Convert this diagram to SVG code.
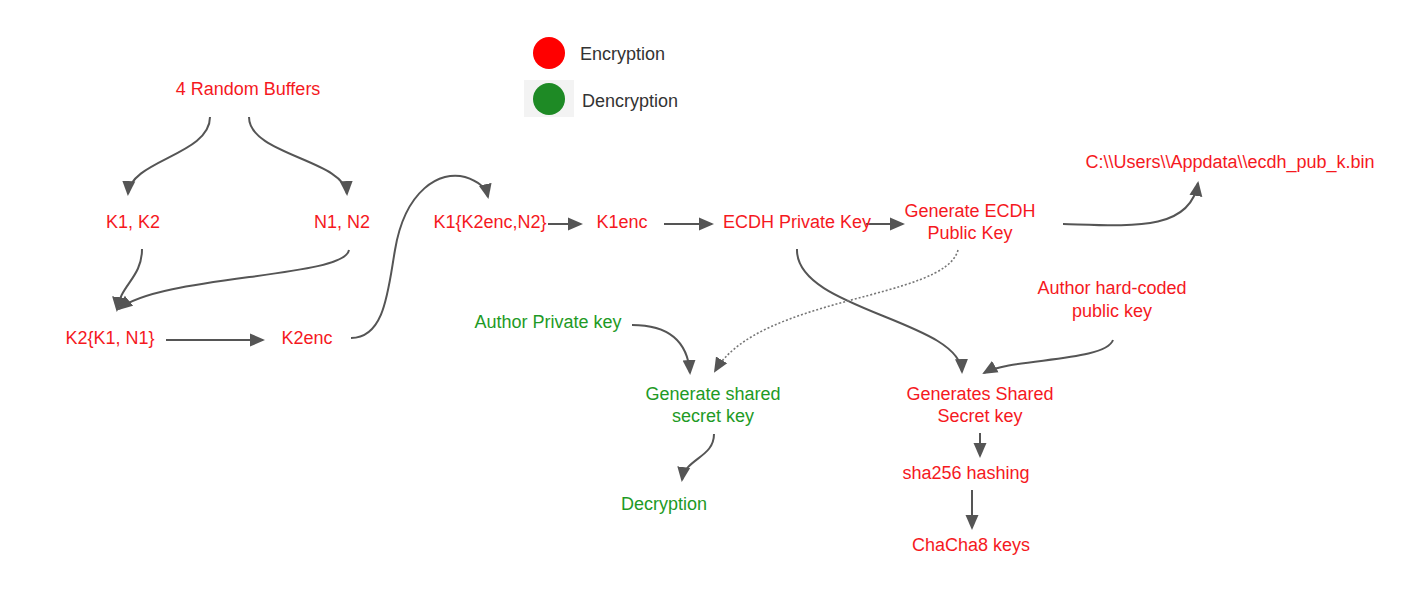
<svg xmlns="http://www.w3.org/2000/svg" width="1428" height="595" viewBox="0 0 1428 595">
<style>
text{font-family:"Liberation Sans",Arial,sans-serif;font-size:18px;text-anchor:middle}
.r{fill:#f5191e}
.g{fill:#1e9a25}
.lg{fill:#333;text-anchor:start;font-size:18px}
.c{fill:none;stroke:#555;stroke-width:2}
.d{fill:none;stroke:#777;stroke-width:1.6;stroke-dasharray:2 2}
</style>
<defs>
<marker id="a" markerUnits="userSpaceOnUse" markerWidth="16" markerHeight="14" refX="13" refY="7" orient="auto">
<path d="M0,0.5 L15,7 L0,13.5 Z" fill="#555"/>
</marker>
</defs>
<rect width="1428" height="595" fill="#fff"/>
<g id="legend">
<circle cx="549" cy="53" r="16" fill="#f00"/>
<text class="lg" x="580" y="60">Encryption</text>
<rect x="524" y="80" width="50" height="37" fill="#f3f3f3"/>
<circle cx="549" cy="99" r="16" fill="#1e8a25"/>
<text class="lg" x="582" y="107">Dencryption</text>
</g>
<g id="connectors">
<path class="c" d="M210,117 C210,155 130,160 128,194" marker-end="url(#a)"/>
<path class="c" d="M249,117 C249,155 345,160 347,194" marker-end="url(#a)"/>
<path class="c" d="M142,249 C142,278 120,285 117,310" marker-end="url(#a)"/>
<path class="c" d="M349,250 C345,278 160,275 119,309" marker-end="url(#a)"/>
<path class="c" d="M166,340 L263,340" marker-end="url(#a)"/>
<path class="c" d="M351,338 C385,338 388,290 395,250 C405,190 440,170 465,177 C478,181 486,188 488,197" marker-end="url(#a)"/>
<path class="c" d="M548,224 L581,224" marker-end="url(#a)"/>
<path class="c" d="M664,224 L712,224" marker-end="url(#a)"/>
<path class="c" d="M866,224 L903,224" marker-end="url(#a)"/>
<path class="c" d="M1063,224 C1130,226 1190,232 1198,183" marker-end="url(#a)"/>
<path class="c" d="M797,249 C795,310 960,320 962,372" marker-end="url(#a)"/>
<path class="d" d="M958,250 C945,300 760,295 715,371" marker-end="url(#a)"/>
<path class="c" d="M1113,340 C1105,362 1010,358 984,373" marker-end="url(#a)"/>
<path class="c" d="M632,325 C672,325 688,345 690,373" marker-end="url(#a)"/>
<path class="c" d="M714,434 C714,458 685,458 682,480" marker-end="url(#a)"/>
<path class="c" d="M980,433 L980,456" marker-end="url(#a)"/>
<path class="c" d="M972,490 L972,528" marker-end="url(#a)"/>
</g>
<g id="n_random"><text class="r" x="248" y="95">4 Random Buffers</text></g>
<g id="n_k1k2"><text class="r" x="133" y="228">K1, K2</text></g>
<g id="n_n1n2"><text class="r" x="342" y="228">N1, N2</text></g>
<g id="n_k2"><text class="r" x="110" y="344">K2{K1, N1}</text></g>
<g id="n_k2enc"><text class="r" x="307" y="344">K2enc</text></g>
<g id="n_k1"><text class="r" x="490" y="228">K1{K2enc,N2}</text></g>
<g id="n_k1enc"><text class="r" x="622" y="228">K1enc</text></g>
<g id="n_ecdhpriv"><text class="r" x="797" y="228">ECDH Private Key</text></g>
<g id="n_genpub"><text class="r" x="970" y="217">Generate ECDH</text><text class="r" x="970" y="239">Public Key</text></g>
<g id="n_file"><text class="r" x="1230" y="168">C:\\Users\\Appdata\\ecdh_pub_k.bin</text></g>
<g id="n_authpub"><text class="r" x="1112" y="294">Author hard-coded</text><text class="r" x="1112" y="317">public key</text></g>
<g id="n_authpriv"><text class="g" x="548" y="328">Author Private key</text></g>
<g id="n_gensharedg"><text class="g" x="713" y="400">Generate shared</text><text class="g" x="713" y="422">secret key</text></g>
<g id="n_decrypt"><text class="g" x="664" y="510">Decryption</text></g>
<g id="n_gensharedr"><text class="r" x="980" y="400">Generates Shared</text><text class="r" x="980" y="422">Secret key</text></g>
<g id="n_sha"><text class="r" x="966" y="479">sha256 hashing</text></g>
<g id="n_chacha"><text class="r" x="971" y="551">ChaCha8 keys</text></g>
</svg>
